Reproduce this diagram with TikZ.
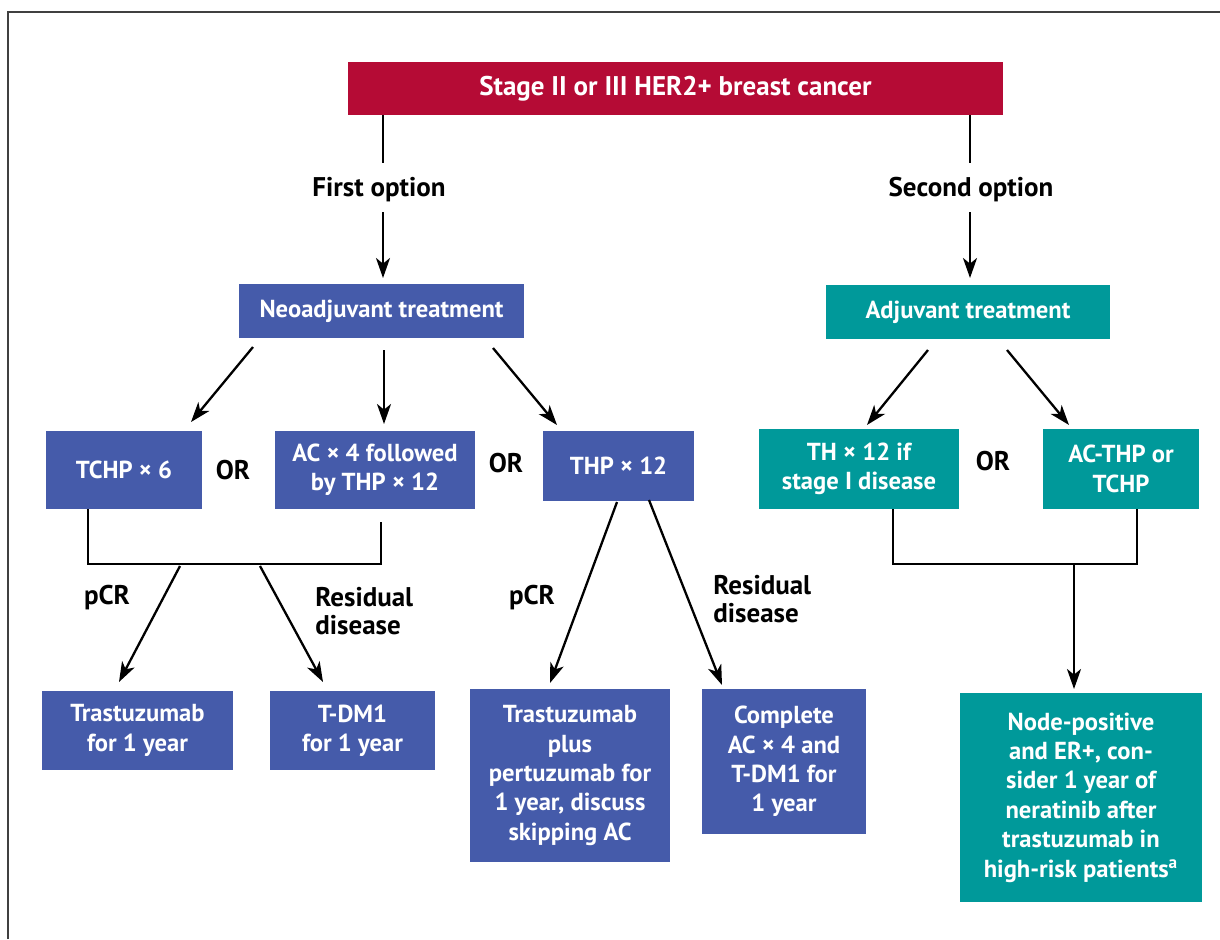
\documentclass[tikz,border=0pt]{standalone}
\usepackage{fontspec}
\setmainfont{PT Sans}
\usetikzlibrary{arrows.meta,calc}
\definecolor{crim}{RGB}{181,11,53}
\definecolor{nblue}{RGB}{69,91,170}
\definecolor{tealb}{RGB}{0,153,154}
\begin{document}
\begin{tikzpicture}[x=0.5pt,y=-0.5pt,
  txt/.style={font=\bfseries\fontsize{12.3}{14.7}\selectfont},
  bigtxt/.style={font=\bfseries\fontsize{13.5}{14.3}\selectfont},
  box/.style={txt, fill=#1, text=white, align=center, inner sep=0pt, anchor=center},
  lbl/.style={bigtxt, align=left, inner sep=0pt},
  arr/.style={line width=1.15pt, -{Stealth[length=10pt,width=7pt,inset=2.8pt]}},
  ln/.style={line width=1.15pt}]
\useasboundingbox (0,0) rectangle (1220,939);
\draw[line width=0.8pt, black!75] (8,939) -- (8,12) -- (1220,12);

% boxes
\node[box=crim, bigtxt, minimum width=327.5pt, minimum height=26.5pt] (top) at (675.5,88.5) {Stage II or III HER2+ breast cancer};
\node[box=nblue, minimum width=142.5pt, minimum height=27pt] (neo) at (381.5,311) {Neoadjuvant treatment};
\node[box=tealb, minimum width=142pt, minimum height=27pt] (adj) at (968,312) {Adjuvant treatment};
\node[box=nblue, minimum width=78pt, minimum height=39pt] (tchp) at (124,470) {TCHP × 6};
\node[box=nblue, minimum width=100pt, minimum height=39pt] (ac) at (375,470) {AC × 4 followed\\by THP × 12};
\node[box=nblue, minimum width=75.5pt, minimum height=35pt] (thp) at (618.5,466) {THP × 12};
\node[box=tealb, minimum width=100pt, minimum height=40pt] (th) at (859,469) {TH × 12 if\\stage I disease};
\node[box=tealb, minimum width=78pt, minimum height=40pt] (acthp) at (1121,469) {AC-THP or\\TCHP};
\node[box=nblue, minimum width=95.5pt, minimum height=39.5pt] (tras1) at (137.5,730.5) {Trastuzumab\\for 1 year};
\node[box=nblue, minimum width=82.5pt, minimum height=39.5pt] (tdm1) at (352.5,730.5) {T-DM1\\for 1 year};
\node[box=nblue, minimum width=100pt, minimum height=86.5pt] (trasplus) at (570,775.5) {Trastuzumab\\plus\\pertuzumab for\\1 year, discuss\\skipping AC};
\node[box=nblue, minimum width=82pt, minimum height=72.5pt] (complete) at (784,761.5) {Complete\\AC × 4 and\\T-DM1 for\\1 year};
\node[box=tealb, minimum width=121pt, minimum height=104.5pt] (nodepos) at (1081,797.5) {Node-positive\\and ER+, con-\\sider 1 year of\\neratinib after\\trastuzumab in\\high-risk patients\textsuperscript{a}};

% labels
\node[lbl] (opt1) at (379,190) {First option};
\node[lbl] (opt2) at (971,190) {Second option};
\node[lbl] (or1) at (233,470) {OR};
\node[lbl] (or2) at (506,463) {OR};
\node[lbl] (or3) at (993,461) {OR};
\node[lbl] (pcr1) at (107,598) {pCR};
\node[lbl] (pcr2) at (532,598) {pCR};
\node[lbl, anchor=west] (res1) at (315,611) {Residual\\disease};
\node[lbl, anchor=west] (res2) at (713,599) {Residual\\disease};

% connector end points
\coordinate (t1) at (383,115); \coordinate (t1b) at (383,163);
\coordinate (o1) at (383,212); \coordinate (o1b) at (383,278);
\coordinate (t2) at (970,115); \coordinate (t2b) at (970,163);
\coordinate (o2) at (970,212); \coordinate (o2b) at (970,278);
\coordinate (n1) at (253,347); \coordinate (n1b) at (191,422);
\coordinate (n2) at (384,350); \coordinate (n2b) at (384,424);
\coordinate (n3) at (493,348); \coordinate (n3b) at (557,425);
\coordinate (a1) at (928,350); \coordinate (a1b) at (867,425);
\coordinate (a2) at (1007,350); \coordinate (a2b) at (1069,425);
\coordinate (b1l) at (88,509); \coordinate (b1r) at (381,522);
\coordinate (b1m) at (88,564); \coordinate (b1n) at (381,564);
\coordinate (p1) at (180,566); \coordinate (p1b) at (119,682);
\coordinate (r1) at (260,566); \coordinate (r1b) at (323,682);
\coordinate (p2) at (617,502); \coordinate (p2b) at (550,683);
\coordinate (r2) at (649,500); \coordinate (r2b) at (722,685);
\coordinate (b2l) at (893,509); \coordinate (b2r) at (1137,509);
\coordinate (b2m) at (893,564); \coordinate (b2n) at (1137,564);
\coordinate (c2) at (1074,564); \coordinate (c2b) at (1074,689);

\draw[ln] (t1) -- (t1b);
\draw[arr] (o1) -- (o1b);
\draw[ln] (t2) -- (t2b);
\draw[arr] (o2) -- (o2b);
\draw[arr] (n1) -- (n1b);
\draw[arr] (n2) -- (n2b);
\draw[arr] (n3) -- (n3b);
\draw[arr] (a1) -- (a1b);
\draw[arr] (a2) -- (a2b);
\draw[ln] (b1l) -- (b1m) -- (b1n) -- (b1r);
\draw[arr] (p1) -- (p1b);
\draw[arr] (r1) -- (r1b);
\draw[arr] (p2) -- (p2b);
\draw[arr] (r2) -- (r2b);
\draw[ln] (b2l) -- (b2m) -- (b2n) -- (b2r);
\draw[arr] (c2) -- (c2b);
\end{tikzpicture}
\end{document}
